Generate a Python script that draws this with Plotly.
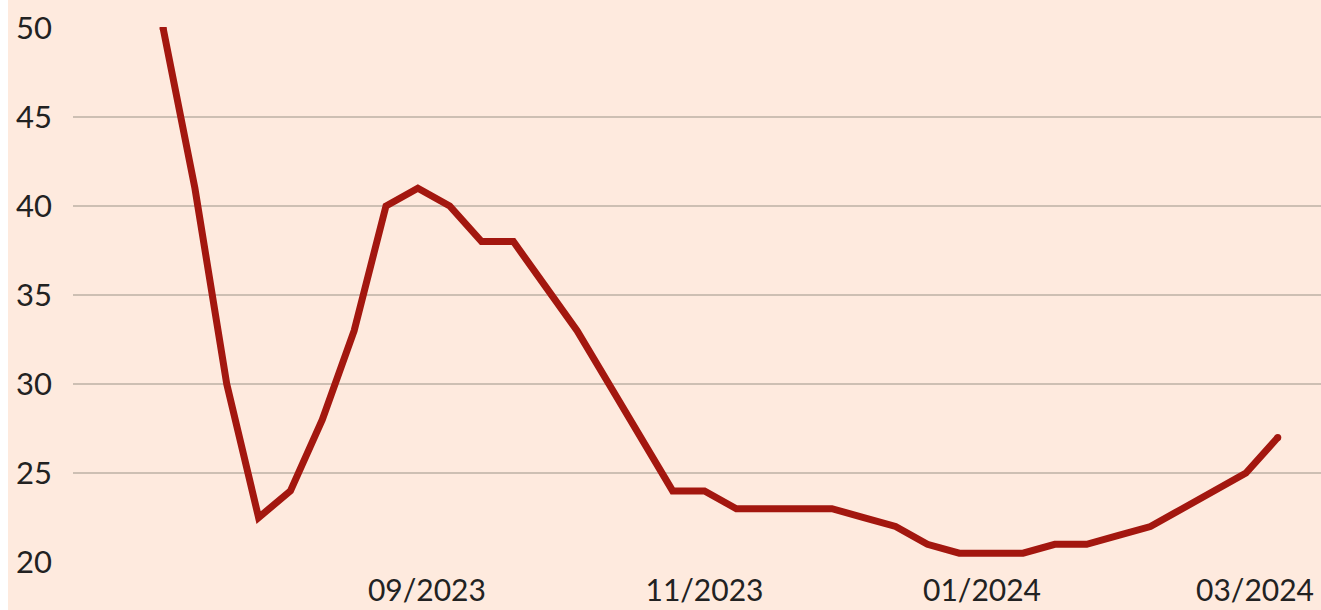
import plotly.graph_objects as go
import pandas as pd

start_date = "2023-07-05"
n_weeks = 36
dates = pd.date_range(start_date, periods=n_weeks, freq="7D")
values = [50, 41, 30, 22.5, 24, 28, 33, 40, 41, 40, 38, 38, 35.5, 33, 30, 27,
          24, 24, 23, 23, 23, 23, 22.5, 22, 21, 20.5, 20.5, 20.5, 21, 21, 21.5,
          22, 23, 24, 25, 27]
x_tick_vals = ["2023-09-01", "2023-11-01", "2024-01-01", "2024-03-01"]
y_tick_vals = [20, 25, 30, 35, 40, 45, 50]

BG = "#FEEADE"
LINE = "#A3170F"
GRID = "#CDBFB3"
TXT = "#222222"
FONT = "Lato, Open Sans, sans-serif"

fig = go.Figure()
fig.add_trace(go.Scatter(
    x=dates, y=values, mode="lines",
    line=dict(color=LINE, width=7),
    hoverinfo="skip", showlegend=False,
))
fig.add_trace(go.Scatter(
    x=[dates[0], dates[-1]], y=[values[0], values[-1]], mode="markers",
    marker=dict(color=LINE, size=7),
    hoverinfo="skip", showlegend=False,
))

fig.update_layout(
    width=1313, height=610,
    margin=dict(l=65, r=0, t=27, b=47),
    paper_bgcolor=BG, plot_bgcolor=BG,
    font=dict(family=FONT, size=30, color=TXT),
    xaxis=dict(
        range=["2023-06-15 05:00", "2024-03-15 12:00"],
        tickvals=x_tick_vals, tickformat="%m/%Y",
        showgrid=False, zeroline=False, showline=False, ticks="",
        ticklabelstandoff=7, automargin=False,
        tickfont=dict(size=30, color=TXT),
    ),
    yaxis=dict(
        range=[19.95, 50.05], tickvals=y_tick_vals,
        showgrid=True, gridcolor=GRID, gridwidth=2,
        zeroline=False, showline=False, ticks="",
        ticklabelstandoff=20, automargin=False,
        tickfont=dict(size=31, color=TXT),
    ),
)

fig.write_html(
    "out.html",
    post_script="document.body.style.marginTop='0px';document.body.style.marginRight='0px';",
)
